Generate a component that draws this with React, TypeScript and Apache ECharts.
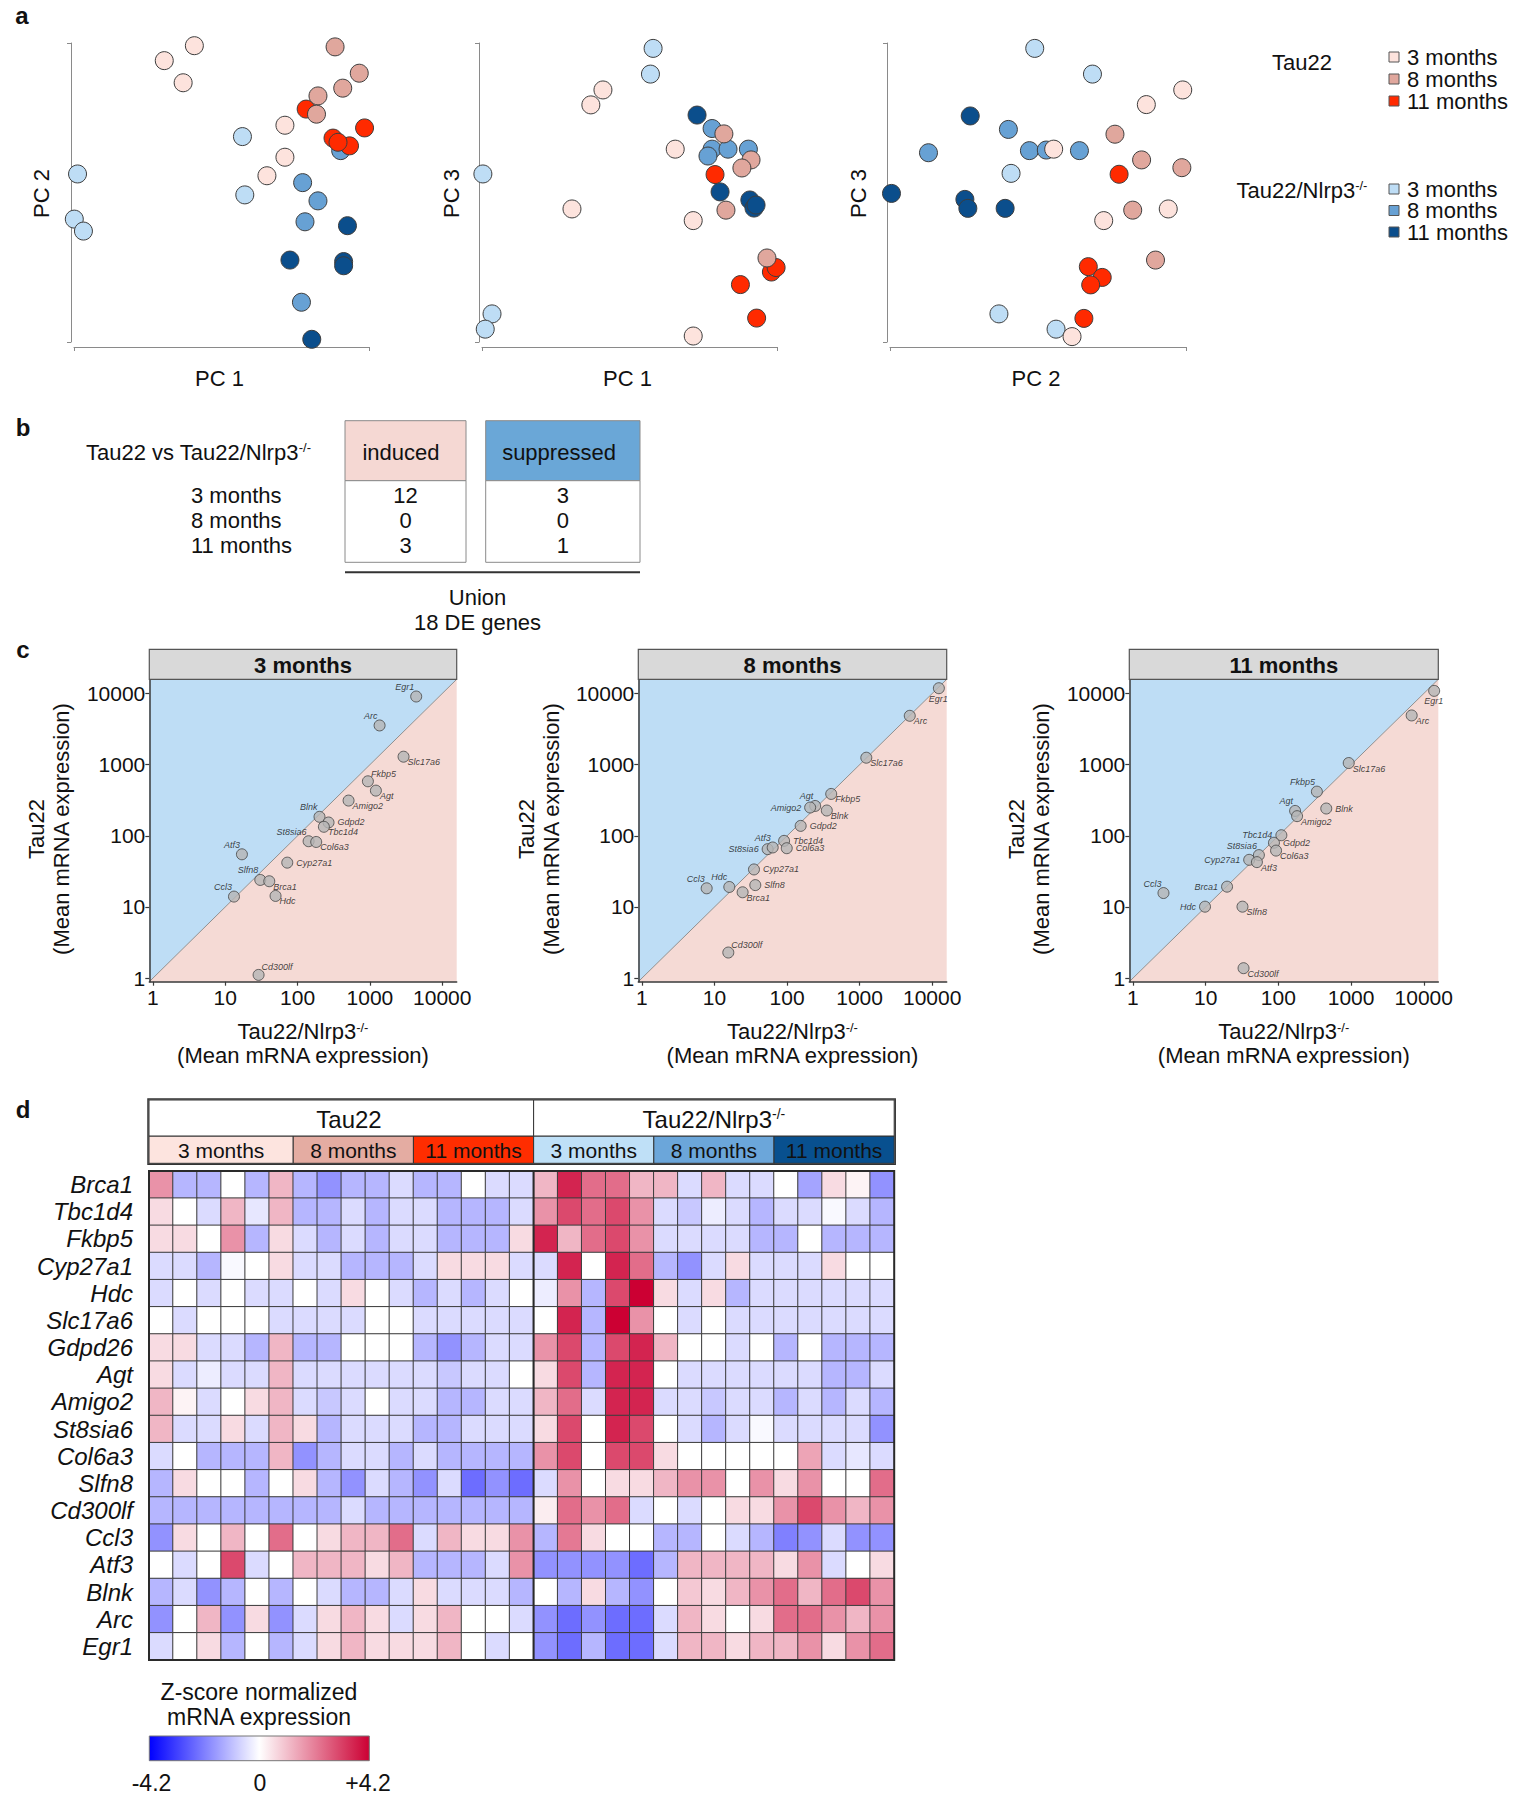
import React, { useEffect, useRef } from 'react';
import * as echarts from 'echarts';

const FONT = "'Liberation Sans', Arial, Helvetica, sans-serif";

// ---------------- Panel a : PCA scores (axis units 0-100, no scale printed) ----------------
const pcaGroupNames = ['Tau22 3 months', 'Tau22 8 months', 'Tau22 11 months', 'Tau22/Nlrp3-/- 3 months', 'Tau22/Nlrp3-/- 8 months', 'Tau22/Nlrp3-/- 11 months'];
// PC1 (x) vs PC2 (y)
const pc12Tau3 = [[40.8, 99.1], [30.6, 94.1], [37.0, 86.7], [71.5, 72.5], [71.5, 61.8], [65.4, 55.6]];
const pc12Tau8 = [[88.5, 98.7], [96.7, 89.9], [91.1, 84.9], [82.7, 82.3], [82.2, 76.2]];
const pc12Tau11 = [[78.7, 77.9], [98.5, 71.6], [87.8, 68.2], [93.4, 65.6], [89.5, 66.8]];
const pc12Nl3 = [[57.1, 68.7], [1.2, 56.2], [57.9, 49.2], [0.1, 41.1], [3.2, 37.1]];
const pc12Nl8 = [[90.4, 64.0], [77.5, 53.3], [82.7, 47.2], [78.3, 40.2], [77.1, 13.3]];
const pc12Nl11 = [[92.7, 38.9], [73.2, 27.4], [91.4, 26.9], [91.4, 25.5], [80.6, 0.9]];
// PC1 (x) vs PC3 (y)
const pc13Tau3 = [[41.0, 84.3], [36.9, 79.3], [65.5, 64.5], [30.5, 44.5], [71.6, 40.6], [71.6, 2.0]];
const pc13Tau8 = [[82.0, 69.6], [91.2, 60.9], [88.1, 58.2], [82.7, 44.1], [96.6, 28.1]];
const pc13Tau11 = [[79.0, 56.0], [98.1, 23.4], [99.7, 24.9], [87.6, 19.2], [93.1, 8.0]];
const pc13Nl3 = [[58.0, 98.2], [57.1, 89.6], [0.3, 56.2], [3.4, 9.4], [1.1, 4.3]];
const pc13Nl8 = [[78.0, 71.4], [78.0, 64.5], [83.4, 64.5], [90.3, 64.5], [76.6, 62.2]];
const pc13Nl11 = [[72.9, 75.9], [80.7, 50.2], [90.8, 47.5], [92.2, 44.8], [92.9, 45.8]];
// PC2 (x) vs PC3 (y)
const pc23Tau3 = [[98.9, 84.3], [86.6, 79.4], [55.3, 64.5], [72.2, 40.6], [94.0, 44.5], [61.5, 1.8]];
const pc23Tau8 = [[76.0, 69.5], [85.0, 60.9], [98.6, 58.3], [82.0, 44.1], [89.7, 27.4]];
const pc23Tau11 = [[77.4, 56.1], [67.0, 25.2], [71.7, 21.6], [67.8, 19.1], [65.5, 7.9]];
const pc23Nl3 = [[48.9, 98.2], [68.4, 89.6], [40.9, 56.4], [36.8, 9.4], [56.1, 4.3]];
const pc23Nl8 = [[13.0, 63.3], [40.0, 71.1], [47.1, 64.0], [52.8, 64.2], [64.0, 64.0]];
const pc23Nl11 = [[27.1, 75.6], [0.5, 49.7], [25.3, 47.7], [26.3, 44.7], [38.9, 44.7]];
const pcaAxisTitles = [['PC 1', 'PC 2'], ['PC 1', 'PC 3'], ['PC 2', 'PC 3']];
const legendAges = ['3 months', '8 months', '11 months'];

// ---------------- Panel b : DE gene counts ----------------
const deAges = ['3 months', '8 months', '11 months'];
const inducedCounts = [12, 0, 3];
const suppressedCounts = [3, 0, 1];
const unionDeGenes = 18;

// ---------------- Panel c : mean mRNA expression ----------------
const cGenes = ['Egr1', 'Arc', 'Slc17a6', 'Fkbp5', 'Agt', 'Amigo2', 'Blnk', 'Gdpd2', 'Tbc1d4', 'St8sia6', 'Col6a3', 'Cyp27a1', 'Atf3', 'Slfn8', 'Brca1', 'Ccl3', 'Hdc', 'Cd300lf'];
const nlrp3Mean3m = [4365, 1361, 2918, 938, 1210, 507, 201, 268, 231, 142, 181, 72, 17, 30.5, 40.6, 13.2, 49.6, 28.9];
const tau22Mean3m = [9080, 3558, 1295, 584, 432, 313, 185, 154, 134, 84, 82, 42, 55, 24, 23, 14, 14.3, 1.11];
const nlrp3Mean8m = [12360, 4910, 1236, 406, 244, 208, 353, 154, 91, 54, 99, 35, 63.4, 36.5, 24.4, 7.8, 16, 15.5];
const tau22Mean8m = [11880, 4864, 1253, 388, 263, 250, 227, 138, 85, 65, 67, 33.7, 68.6, 20.3, 16.1, 18.3, 19.1, 2.29];
const nlrp3Mean11m = [13900, 6820, 929, 339, 170, 181, 456, 87, 110, 54, 93, 39.7, 50.7, 32.1, 19.7, 2.63, 9.8, 33.2];
const tau22Mean11m = [10900, 4920, 1055, 418, 224, 189, 242, 80, 102, 53.6, 62, 46, 42.7, 10.1, 19.3, 15.7, 10.1, 1.38];
const cTitles = ['3 months', '8 months', '11 months'];
const cTicks = [1, 10, 100, 1000, 10000];
// label placement codes (style)
const cLab3m = ['tl', 'tl', 'br', 'tr', 'br', 'br', 'tl', 'r', 'br', 'tl', 'br', 'r', 'tl', 'tl', 'br', 'tl', 'br', 'tr'];
const cLab8m = ['b', 'br', 'br', 'br', 'tl', 'l', 'br', 'r', 'r', 'l', 'r', 'r', 'tl', 'r', 'br', 'tl', 'tl', 'tr'];
const cLab11m = ['b', 'br', 'br', 'tl', 'tl', 'br', 'r', 'r', 'l', 'tl', 'br', 'l', 'br', 'br', 'l', 'tl', 'l', 'br'];

// ---------------- Panel d : z-scores ----------------
const heatGenes = ['Brca1', 'Tbc1d4', 'Fkbp5', 'Cyp27a1', 'Hdc', 'Slc17a6', 'Gdpd26', 'Agt', 'Amigo2', 'St8sia6', 'Col6a3', 'Slfn8', 'Cd300lf', 'Ccl3', 'Atf3', 'Blnk', 'Arc', 'Egr1'];
const heatAgeGroups = ['3 months', '8 months', '11 months', '3 months', '8 months', '11 months'];
const heatGroupSizes = [6, 5, 5, 5, 5, 5];
const zBrca1 = [1.8, -1.2, -1.2, 0, -1.2, 1.2, -1.2, -1.8, -1.2, -1.2, -0.6, -1.2, -1.2, 0, -0.6, -0.6, 1.2, 3.6, 2.4, 2.4, 1.2, 1.2, -0.6, 1.2, -0.6, -0.6, 0, -1.5, 0.6, 0.2, -1.8];
const zTbc1d4 = [0.6, 0, -0.6, 1.2, -0.4, 1.2, -1.2, -1.2, -0.6, -1.2, -0.6, -0.6, -1.2, -1.2, -1.2, -0.6, 1.8, 3.0, 2.4, 3.0, 1.8, -0.6, -0.9, -0.3, -0.6, -1.2, -0.6, -0.6, -0.1, -0.6, -1.2];
const zFkbp5 = [0.6, 0.6, 0, 1.8, -1.2, 0.6, -0.6, -1.2, -0.6, -1.2, -0.6, -0.6, -1.2, -1.2, -1.2, 0.6, 3.6, 1.2, 2.4, 3.0, 1.8, -0.6, -0.6, -0.6, -0.6, -1.2, -1.2, 0, -1.2, -1.2, -1.2];
const zCyp27a1 = [-0.6, -0.6, -1.2, -0.1, 0, 0.6, -0.6, -0.6, -1.2, -1.2, -1.2, -0.6, 0.6, 0.6, 0.6, -0.6, -0.6, 3.6, 0, 3.6, 2.4, -1.2, -1.8, -0.6, 0.6, -0.6, -0.6, -0.6, 0.6, 0, 0];
const zHdc = [-0.6, 0, -0.6, 0, -0.6, -0.6, 0, -0.6, 0.6, 0, -0.6, -1.2, -0.6, -1.2, -0.6, 0, -0.3, 1.8, -1.2, 3.0, 4.2, 0.6, -0.6, 0.6, -1.2, -0.6, -0.6, -0.6, -0.6, -0.6, -0.6];
const zSlc17a6 = [0, -0.6, 0, 0, 0, -0.6, -0.6, -0.6, -0.6, 0, 0, -0.6, -0.6, -0.6, -0.6, -0.6, 0, 3.6, -1.2, 4.2, 1.8, 0, -0.6, 0, -0.6, -0.6, -0.6, -0.6, -0.6, -0.6, -0.6];
const zGdpd26 = [0.6, 0.6, -0.6, -0.6, -1.2, 1.2, -1.2, -1.2, 0, 0, 0, -1.2, -1.8, -1.2, -0.6, -0.6, 1.8, 3.0, -1.2, 3.0, 3.6, 1.2, 0, 0, -0.6, 0, -1.2, 0, -1.2, -1.2, -1.2];
const zAgt = [0.6, -0.6, -0.3, -0.6, -0.6, 1.2, -0.6, -0.6, -0.6, -0.6, -0.6, -0.6, -0.9, -0.6, -0.6, 0, 0.6, 3.0, -1.2, 3.6, 3.6, 0, -0.6, -0.6, -0.6, -0.6, -0.6, -0.6, -1.2, -1.2, -0.6];
const zAmigo2 = [1.2, 0.2, -0.6, 0, 0.6, 1.2, -0.6, -0.9, -0.6, 0, -0.6, -0.6, -1.2, -1.2, -0.6, -0.6, 1.2, 2.4, -0.6, 3.6, 3.6, -0.6, -0.6, -0.9, -0.6, -0.6, -1.2, -0.6, -1.2, -0.6, -1.2];
const zSt8sia6 = [1.2, -0.6, -0.6, 0.6, -0.6, 1.2, 0.6, -1.2, -0.6, -0.6, -0.6, -1.2, -1.2, -0.6, -0.6, -0.6, 0.6, 3.0, 0, 3.6, 3.0, 0, -0.6, -1.2, -0.6, -0.1, -0.6, -0.6, -0.6, -0.6, -1.8];
const zCol6a3 = [-0.6, 0, -1.2, -1.2, -1.2, 1.2, -1.8, -1.2, -0.6, -0.6, -1.2, -0.6, -1.2, -1.2, -1.2, -1.2, 1.8, 3.0, 0, 3.0, 3.0, 0.6, 0, 0, 0, 0, 0, 1.5, -0.6, -0.4, -0.6];
const zSlfn8 = [-1.2, 0.6, 0, 0, -1.2, 0, 0.6, -1.2, -1.8, -0.6, -1.2, -1.8, -0.6, -2.4, -1.8, -2.4, -0.6, 1.8, 0, 0.6, 0.6, 1.2, 1.8, 1.8, 0, 1.8, 0.6, 1.8, 0, 0, 2.4];
const zCd300lf = [-1.2, -1.2, -1.2, -1.2, -1.2, -1.2, -1.2, -1.2, -0.6, -1.2, -1.2, -1.2, -1.2, -1.2, -1.2, -1.2, 0.3, 2.4, 1.8, 2.4, -0.6, 0, -0.6, 0, 0.6, 0.6, 1.8, 3.0, 1.8, 1.2, 1.8];
const zCcl3 = [-1.8, 0.6, 0, 1.2, 0, 2.4, 0, 0.6, 1.2, 1.2, 2.4, -0.6, 1.2, 0.6, 0.6, 1.8, -1.2, 2.2, 0.6, 0, 0, -1.2, -1.2, 0, -0.6, -1.2, -2.1, -1.8, -0.6, -1.8, -1.8];
const zAtf3 = [0, -0.6, 0, 3.0, -0.6, 0, 1.2, 1.2, 1.2, 0.6, 1.2, -1.2, -1.2, -1.2, -0.6, 1.8, -1.8, -1.8, -1.8, -1.8, -2.4, -1.2, 1.2, 1.2, 1.2, 1.2, 0.6, 1.8, -0.6, 0, 0.6];
const zBlnk = [-1.2, -0.6, -1.8, -1.2, 0, -1.2, 0, -0.6, -1.2, -1.2, -0.6, 0.6, -0.6, -0.6, -0.6, -1.2, 0, -1.2, 0.6, -1.2, -1.8, 0, 0.9, 0.6, 1.2, 1.8, 2.4, 1.2, 2.4, 3.0, 1.8];
const zArc = [-1.8, 0, 1.2, -1.8, 0.6, -1.8, -0.6, 0.6, 1.2, 0.6, -0.6, 0.6, 1.2, 0, 0, -0.6, -1.8, -2.4, -1.8, -2.4, -2.4, -0.6, 1.2, 0.6, 0, 0.6, 2.4, 2.4, 1.8, 1.2, 1.8];
const zEgr1 = [-0.6, 0, 0.6, -1.2, 0, -1.2, -0.6, 0.6, 1.2, 0.6, 0.6, 0.6, 1.2, 0, -0.6, 0, -1.8, -2.4, -1.2, -2.4, -2.4, -0.6, 1.2, 1.2, 0.6, 1.2, 1.2, 1.8, 0.6, 1.8, 2.4];
const zLimits = [-4.2, 4.2];
const zTickLabels = ['-4.2', '0', '+4.2'];

// ---------------- styles ----------------
const groupColors = ['#FDE3DD', '#E0A79D', '#FF2A00', '#BEDDF5', '#67A1D4', '#0B4E8C'];
const headerColors = ['#FDE4DF', '#E4ACA2', '#FF2D00', '#BFE0F7', '#6BA6DA', '#08508F'];
const TXT = '#111';

function T(x: number, y: number, text: string, o: any = {}) {
  const align = o.align || 'center';
  const va = o.va || 'middle';
  return {
    type: 'text', x, y, silent: true, rotation: o.rotation || 0, z: 50,
    style: {
      text, fill: o.color || TXT, fontSize: o.size || 22, fontFamily: FONT,
      fontWeight: o.weight || 'normal', fontStyle: o.fstyle || 'normal',
      align, verticalAlign: va, textAlign: align, textVerticalAlign: va,
      rich: o.rich,
    },
  };
}
function supRich(size: number) {
  return { sup: { fontSize: size, fontFamily: FONT, fill: TXT, verticalAlign: 'top' } };
}
function R(x: number, y: number, w: number, h: number, fill: string, stroke: string, lw = 1) {
  return { type: 'rect', silent: true, z: 40, shape: { x, y, width: w, height: h }, style: { fill, stroke, lineWidth: lw } };
}
function L(x1: number, y1: number, x2: number, y2: number, stroke: string, lw = 1) {
  return { type: 'line', silent: true, z: 45, shape: { x1, y1, x2, y2 }, style: { stroke, lineWidth: lw } };
}

function placement(code: string) {
  switch (code) {
    case 'tl': return { position: [4, 1], align: 'right', verticalAlign: 'bottom' };
    case 'tr': return { position: [9, 3], align: 'left', verticalAlign: 'bottom' };
    case 'br': return { position: [10, 7], align: 'left', verticalAlign: 'top' };
    case 'bl': return { position: [1, 8], align: 'right', verticalAlign: 'top' };
    case 'b': return { position: [5.5, 12], align: 'center', verticalAlign: 'top' };
    case 'l': return { position: 'left', distance: 3 };
    default: return { position: 'right', distance: 3 };
  }
}

function buildOption() {
  const gridsA = [
    { left: 74, top: 43, width: 295, height: 299 },
    { left: 482, top: 43, width: 295, height: 299 },
    { left: 890, top: 43, width: 296, height: 299 },
  ];
  const gridsC = [
    { left: 149.3, top: 679.3, width: 307.4, height: 302.4 },
    { left: 638.3, top: 679.3, width: 308.4, height: 302.4 },
    { left: 1129.3, top: 679.3, width: 309, height: 302.4 },
  ];
  const HM = { left: 149, top: 1171, width: 745.2, height: 489 };
  const grids = [...gridsA, ...gridsC, HM].map((g) => ({ ...g, containLabel: false, outerBoundsMode: 'none' }));

  const CMIN = 0.891;
  const CMAX = 15849;

  const xAxes: any[] = [];
  const yAxes: any[] = [];
  const series: any[] = [];

  // panel a axes and series
  const pcaSets = [
    [pc12Tau3, pc12Tau8, pc12Tau11, pc12Nl3, pc12Nl8, pc12Nl11],
    [pc13Tau3, pc13Tau8, pc13Tau11, pc13Nl3, pc13Nl8, pc13Nl11],
    [pc23Tau3, pc23Tau8, pc23Tau11, pc23Nl3, pc23Nl8, pc23Nl11],
  ];
  const pcaAxis = (gi: number, off: number) => ({
    gridIndex: gi, type: 'value', min: 0, max: 100, interval: 100, offset: off,
    axisLine: { show: true, onZero: false, lineStyle: { color: '#8a8a8a', width: 1 } },
    axisTick: { show: true, length: 4, lineStyle: { color: '#8a8a8a', width: 1 } },
    axisLabel: { show: false }, splitLine: { show: false },
  });
  const drawOrder = [3, 4, 5, 2, 0, 1];
  for (let p = 0; p < 3; p++) {
    xAxes.push(pcaAxis(p, 5));
    yAxes.push(pcaAxis(p, 3));
    drawOrder.forEach((g) => {
      series.push({
        type: 'scatter', name: pcaGroupNames[g], xAxisIndex: p, yAxisIndex: p,
        data: pcaSets[p][g], symbol: 'circle', symbolSize: 18, clip: false, silent: true,
        itemStyle: { color: groupColors[g], borderColor: '#3d3d3d', borderWidth: 1, opacity: 1 },
      });
    });
  }

  // panel c axes and series
  const cSets = [
    [nlrp3Mean3m, tau22Mean3m, cLab3m],
    [nlrp3Mean8m, tau22Mean8m, cLab8m],
    [nlrp3Mean11m, tau22Mean11m, cLab11m],
  ];
  const fmt = (v: number) => {
    const r = Math.round(v);
    return cTicks.indexOf(r) >= 0 && Math.abs(v - r) < 1e-6 * r ? String(r) : '';
  };
  const logAxis = (gi: number, isX: boolean) => ({
    gridIndex: gi, type: 'log', logBase: 10, min: CMIN, max: CMAX, z: 10,
    axisLine: { show: true, onZero: false, lineStyle: { color: '#3a3a3a', width: 1.5 } },
    axisTick: { show: true, length: 4, customValues: cTicks, lineStyle: { color: '#3a3a3a', width: 1.2 } },
    axisLabel: { show: true, customValues: cTicks, formatter: fmt, fontSize: 21, color: TXT, fontFamily: FONT, margin: isX ? 5 : 4, showMinLabel: true, showMaxLabel: true },
    splitLine: { show: false }, minorTick: { show: false },
  });
  for (let k = 0; k < 3; k++) {
    const gi = 3 + k;
    xAxes.push(logAxis(gi, true));
    yAxes.push(logAxis(gi, false));
    series.push({
      type: 'custom', xAxisIndex: gi, yAxisIndex: gi, z: 1, silent: true,
      data: [[CMIN, CMIN]],
      renderItem: (_params: any, api: any) => {
        const p00 = api.coord([CMIN, CMIN]);
        const p01 = api.coord([CMIN, CMAX]);
        const p11 = api.coord([CMAX, CMAX]);
        const p10 = api.coord([CMAX, CMIN]);
        return {
          type: 'group',
          children: [
            { type: 'polygon', shape: { points: [p00, p01, p11] }, style: { fill: '#BEDDF5' } },
            { type: 'polygon', shape: { points: [p00, p10, p11] }, style: { fill: '#F5DAD5' } },
            { type: 'line', shape: { x1: p00[0], y1: p00[1], x2: p11[0], y2: p11[1] }, style: { stroke: '#8f8f8f', lineWidth: 1 } },
          ],
        };
      },
    });
    const xs = cSets[k][0] as number[];
    const ys = cSets[k][1] as number[];
    const codes = cSets[k][2] as string[];
    series.push({
      type: 'scatter', xAxisIndex: gi, yAxisIndex: gi, z: 3, silent: true, clip: false,
      symbol: 'circle', symbolSize: 11,
      itemStyle: { color: '#B5B5B5', borderColor: '#444', borderWidth: 1 },
      label: { show: true, formatter: '{b}', fontSize: 9, fontStyle: 'italic', color: '#111', fontFamily: FONT },
      data: cGenes.map((g, i) => ({ name: g, value: [xs[i], ys[i]], label: placement(codes[i]) })),
    });
  }

  // panel d heatmap
  const sampleIds: string[] = [];
  heatGroupSizes.forEach((n, gi) => {
    for (let i = 0; i < n; i++) sampleIds.push((gi < 3 ? 'Tau22 ' : 'Tau22/Nlrp3 ') + heatAgeGroups[gi] + ' #' + (i + 1));
  });
  const heatRows = [zBrca1, zTbc1d4, zFkbp5, zCyp27a1, zHdc, zSlc17a6, zGdpd26, zAgt, zAmigo2, zSt8sia6, zCol6a3, zSlfn8, zCd300lf, zCcl3, zAtf3, zBlnk, zArc, zEgr1];
  const heatData: number[][] = [];
  heatRows.forEach((row, r) => row.forEach((v, c) => heatData.push([c, r, v])));
  xAxes.push({ gridIndex: 6, type: 'category', data: sampleIds, show: false });
  yAxes.push({
    gridIndex: 6, type: 'category', data: heatGenes, inverse: true,
    axisLine: { show: false }, axisTick: { show: false }, splitLine: { show: false },
    axisLabel: { fontSize: 24, fontStyle: 'italic', color: TXT, fontFamily: FONT, margin: 16, interval: 0 },
  });
  const heatIdx = series.length;
  series.push({
    type: 'heatmap', xAxisIndex: 6, yAxisIndex: 6, data: heatData, silent: true,
    itemStyle: { borderColor: '#3c3c3c', borderWidth: 1 },
    emphasis: { disabled: true },
  });

  // ---------------- graphic ----------------
  const g: any[] = [];
  // panel letters
  g.push(T(22, 15, 'a', { size: 24, weight: 'bold' }));
  g.push(T(23, 427, 'b', { size: 24, weight: 'bold' }));
  g.push(T(23, 649, 'c', { size: 24, weight: 'bold' }));
  g.push(T(23, 1109, 'd', { size: 24, weight: 'bold' }));

  // panel a axis titles
  const yTitleX = [41, 451, 858];
  gridsA.forEach((gr, i) => {
    g.push(T(gr.left + gr.width / 2 - 2, 378, pcaAxisTitles[i][0]));
    g.push(T(yTitleX[i], gr.top + gr.height / 2 + 1, pcaAxisTitles[i][1], { rotation: Math.PI / 2 }));
  });
  // legend
  g.push(T(1302, 62, 'Tau22'));
  g.push(T(1302, 190, 'Tau22/Nlrp3{sup|-/-}', { rich: supRich(13) }));
  const legY = [57, 79, 101, 189, 210.5, 232];
  legendAges.concat(legendAges).forEach((age, i) => {
    g.push(R(1389, legY[i] - 5, 10, 10, groupColors[i], '#555', 1));
    g.push(T(1407, legY[i], age, { align: 'left' }));
  });

  // panel b table
  g.push(T(86, 452, 'Tau22 vs Tau22/Nlrp3{sup|-/-}', { align: 'left', rich: supRich(13) }));
  g.push(R(345, 420.7, 121, 60, '#F5D8D3', '#8a8a8a', 1));
  g.push(R(345, 480.7, 121, 81.6, '#FFFFFF', '#8a8a8a', 1));
  g.push(R(485.7, 420.7, 154.3, 60, '#6AA7D7', '#8a8a8a', 1));
  g.push(R(485.7, 480.7, 154.3, 81.6, '#FFFFFF', '#8a8a8a', 1));
  g.push(T(401, 452, 'induced'));
  g.push(T(559, 452, 'suppressed'));
  deAges.forEach((age, i) => {
    const y = 495 + i * 25;
    g.push(T(191, y, age, { align: 'left' }));
    g.push(T(405.5, y, String(inducedCounts[i])));
    g.push(T(562.8, y, String(suppressedCounts[i])));
  });
  g.push(L(345, 572.3, 640, 572.3, '#333', 2));
  g.push(T(477.5, 597.5, 'Union'));
  g.push(T(477.5, 622, unionDeGenes + ' DE genes'));

  // panel c strips and titles
  const cYTitleX = [[36.7, 61], [526.7, 551], [1016.7, 1041.7]];
  gridsC.forEach((gr, i) => {
    g.push(R(gr.left, 649.3, gr.width, 30, '#D9D9D9', '#555', 1.2));
    g.push(T(gr.left + gr.width / 2, 665, cTitles[i], { weight: 'bold' }));
    const cx = gr.left + gr.width / 2;
    g.push(T(cx, 1031.7, 'Tau22/Nlrp3{sup|-/-}', { rich: supRich(13) }));
    g.push(T(cx, 1055, '(Mean mRNA expression)'));
    g.push(T(cYTitleX[i][0], 829, 'Tau22', { rotation: Math.PI / 2 }));
    g.push(T(cYTitleX[i][1], 829, '(Mean mRNA expression)', { rotation: Math.PI / 2 }));
  });

  // panel d header
  const cw = HM.width / sampleIds.length;
  let cx = HM.left;
  const groupX: number[] = [];
  heatGroupSizes.forEach((n, i) => {
    const w = n * cw;
    groupX.push(cx);
    g.push(R(cx, 1136, w, 27.3, headerColors[i], '#333', 1));
    g.push(T(cx + w / 2, 1150.5, heatAgeGroups[i], { size: 21 }));
    cx += w;
  });
  const midX = groupX[3];
  g.push(R(HM.left, 1100, midX - HM.left, 36, '#FFFFFF', '#333', 1));
  g.push(R(midX, 1100, HM.left + HM.width - midX, 36, '#FFFFFF', '#333', 1));
  g.push(T(349, 1119, 'Tau22', { size: 24 }));
  g.push(T((midX + HM.left + HM.width) / 2, 1119, 'Tau22/Nlrp3{sup|-/-}', { size: 24, rich: supRich(14) }));
  g.push(R(HM.left - 1, 1100 - 1, HM.width + 2, 63.3 + 2, 'none', '#333', 1.5));
  // heatmap frame and strain divider
  g.push(R(HM.left, HM.top, HM.width, HM.height, 'none', '#2a2a2a', 2));
  g.push(L(midX, HM.top, midX, HM.top + HM.height, '#2a2a2a', 2));

  // colour bar
  g.push(T(259, 1692, 'Z-score normalized', { size: 23 }));
  g.push(T(259, 1717, 'mRNA expression', { size: 23 }));
  g.push({
    type: 'rect', silent: true, z: 40,
    shape: { x: 149.3, y: 1736, width: 220, height: 24.7 },
    style: {
      fill: new echarts.graphic.LinearGradient(0, 0, 1, 0, [
        { offset: 0, color: '#0000FF' }, { offset: 0.5, color: '#FFFFFF' }, { offset: 1, color: '#CC0033' },
      ]),
      stroke: '#777', lineWidth: 1,
    },
  });
  g.push(T(151.5, 1783, zTickLabels[0], { size: 23 }));
  g.push(T(260, 1783, zTickLabels[1], { size: 23 }));
  g.push(T(368, 1783, zTickLabels[2], { size: 23 }));

  return {
    animation: false,
    backgroundColor: '#FFFFFF',
    textStyle: { fontFamily: FONT },
    grid: grids,
    xAxis: xAxes,
    yAxis: yAxes,
    visualMap: [{
      type: 'continuous', show: false, min: zLimits[0], max: zLimits[1], seriesIndex: heatIdx, dimension: 2,
      inRange: { color: ['#0000FF', '#FFFFFF', '#CC0033'] },
    }],
    series,
    graphic: g,
  };
}

export default function App() {
  const ref = useRef<HTMLDivElement>(null);
  useEffect(() => {
    document.body.style.margin = '0';
    const chart = echarts.init(ref.current as HTMLDivElement, null, { renderer: 'svg' });
    chart.setOption(buildOption() as any);
    return () => chart.dispose();
  }, []);
  return <div ref={ref} style={{ width: 1521, height: 1800 }} />;
}
